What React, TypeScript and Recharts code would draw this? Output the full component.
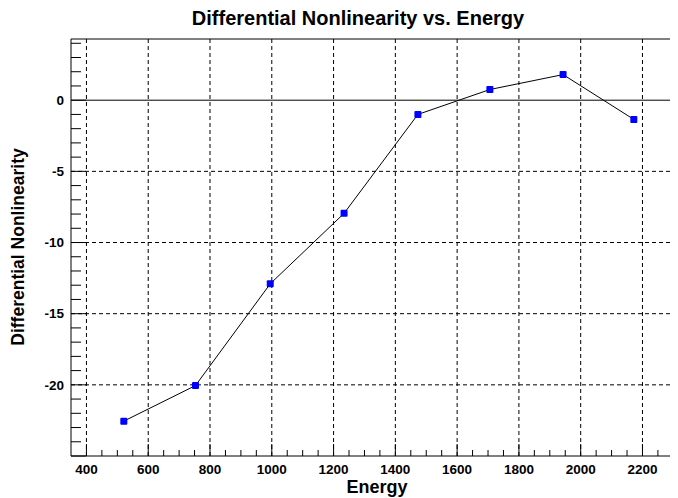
import { LineChart, Line, XAxis, YAxis, ReferenceLine } from 'recharts'

const energy = [521, 753, 995, 1234, 1473, 1706, 1943, 2172]
const dnl = [-22.55, -20.05, -12.9, -7.95, -1.0, 0.75, 1.8, -1.35]

const xTicks = Array.from({ length: 39 }, (_, i) => 400 + i * 50).filter(v => v <= 2300)
const xMajor = [400, 600, 800, 1000, 1200, 1400, 1600, 1800, 2000, 2200]
const yTicks = Array.from({ length: 30 }, (_, i) => -25 + i)
const yMajor = [-20, -15, -10, -5]

const X_DOMAIN: [number, number] = [350, 2315]
const Y_DOMAIN: [number, number] = [-25, 4.3]

const data = energy.map((e, i) => ({ energy: e, dnl: dnl[i] }))

const FONT = '"Liberation Sans", Arial, sans-serif'

const XTick = (props: any) => {
  const { x, y, payload } = props
  const major = payload.value % 200 === 0
  return (
    <g>
      <line x1={x} x2={x} y1={y} y2={y - (major ? 12 : 6)} stroke="#000" />
      {major && (
        <text x={x} y={y + 17.5} textAnchor="middle" fontFamily={FONT} fontWeight="bold" fontSize={13.5} fill="#000">
          {payload.value}
        </text>
      )}
    </g>
  )
}

const YTick = (props: any) => {
  const { x, y, payload } = props
  const major = payload.value % 5 === 0
  return (
    <g>
      <line x1={x} x2={x + (major ? 15 : 10)} y1={y} y2={y} stroke="#000" />
      {major && payload.value > -25 && (
        <text x={x - 7} y={y + 4.8} textAnchor="end" fontFamily={FONT} fontWeight="bold" fontSize={13.5} fill="#000">
          {payload.value}
        </text>
      )}
    </g>
  )
}

const SquareDot = (props: any) => {
  const { cx, cy, index } = props
  return <rect key={`d-${index}`} x={cx - 3.5} y={cy - 3.5} width={7} height={7} rx={1} fill="#0000ff" />
}

export default function App() {
  return (
    <div style={{ position: 'relative', width: 670, height: 490 }}>
      <LineChart width={670} height={490} data={data} margin={{ top: 31, right: 0, bottom: 0, left: 0 }}>
        <XAxis
          dataKey="energy"
          type="number"
          domain={X_DOMAIN}
          ticks={xTicks}
          interval={0}
          allowDataOverflow
          height={42}
          tickSize={0}
          tickMargin={0}
          tickLine={false}
          axisLine={{ stroke: '#000' }}
          tick={<XTick />}
        />
        <YAxis
          type="number"
          domain={Y_DOMAIN}
          ticks={yTicks}
          interval={0}
          allowDataOverflow
          width={63}
          tickSize={0}
          tickMargin={0}
          tickLine={false}
          axisLine={{ stroke: '#000' }}
          tick={<YTick />}
        />
        {xMajor.map(v => (
          <ReferenceLine key={`vx-${v}`} x={v} stroke="#000" strokeDasharray="4 3" />
        ))}
        {yMajor.map(v => (
          <ReferenceLine key={`hy-${v}`} y={v} stroke="#000" strokeDasharray="4 3" />
        ))}
        <ReferenceLine y={0} stroke="#000" />
        <ReferenceLine y={Y_DOMAIN[1]} stroke="#000" />
        <Line
          dataKey="dnl"
          stroke="#000"
          strokeWidth={1}
          dot={<SquareDot />}
          isAnimationActive={false}
        />
      </LineChart>
      <svg width={670} height={498} style={{ position: 'absolute', left: 0, top: -8, pointerEvents: 'none' }}>
        <text x={350} y={25} textAnchor="middle" fontFamily={FONT} fontWeight="bold" fontSize={20} fill="#000">
          Differential Nonlinearity vs. Energy
        </text>
        <text x={369} y={493} textAnchor="middle" fontFamily={FONT} fontWeight="bold" fontSize={18} fill="#000">
          Energy
        </text>
        <text
          x={16}
          y={247}
          textAnchor="middle"
          transform="rotate(-90 16 247)"
          fontFamily={FONT}
          fontWeight="bold"
          fontSize={17.5}
          fill="#000"
        >
          Differential Nonlinearity
        </text>
      </svg>
    </div>
  )
}
